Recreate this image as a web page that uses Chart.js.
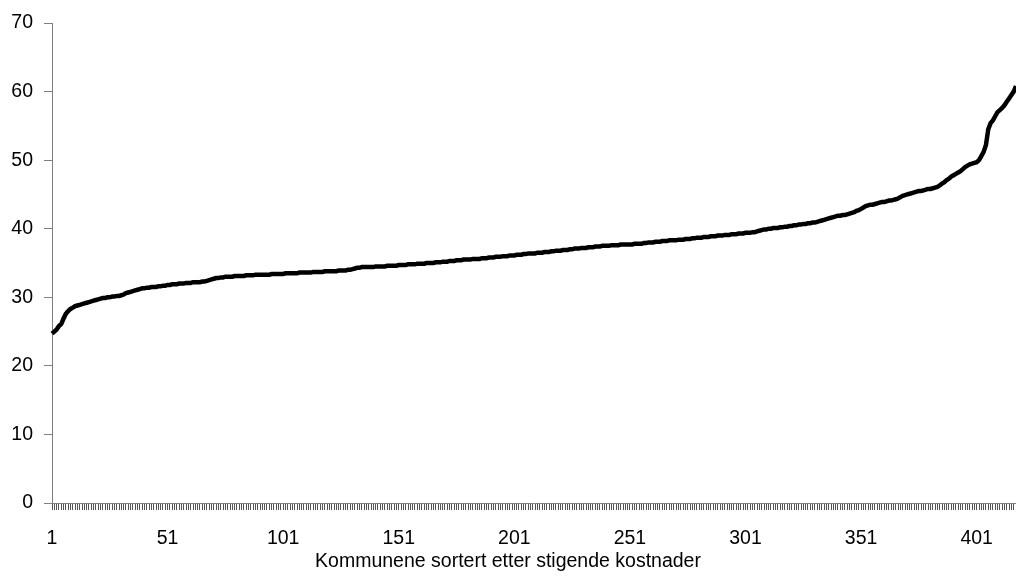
<!DOCTYPE html>
<html>
<head>
<meta charset="utf-8">
<script src="https://cdn.jsdelivr.net/npm/chart.js@4.4.1/dist/chart.umd.min.js"></script>
<style>
  html, body { margin: 0; padding: 0; background: #ffffff; }
  #wrap { width: 1016px; height: 583px; position: relative; }
</style>
</head>
<body>
<div id="wrap"><canvas id="c" width="1016" height="583"></canvas></div>
<script>
// Cost per municipality, sorted ascending
const costs = [
  24.7, 25.0, 25.3, 25.8, 26.1, 26.9, 27.6, 28.0, 28.3, 28.5,
  28.7, 28.8, 28.9, 29.0, 29.1, 29.2, 29.3, 29.4, 29.5, 29.6,
  29.7, 29.8, 29.9, 29.9, 30.0, 30.0, 30.1, 30.1, 30.2, 30.2,
  30.3, 30.4, 30.6, 30.7, 30.8, 30.9, 31.0, 31.1, 31.2, 31.3,
  31.3, 31.4, 31.4, 31.5, 31.5, 31.5, 31.6, 31.6, 31.7, 31.7,
  31.8, 31.8, 31.9, 31.9, 31.9, 32.0, 32.0, 32.0, 32.1, 32.1,
  32.1, 32.2, 32.2, 32.2, 32.2, 32.3, 32.3, 32.4, 32.5, 32.6,
  32.7, 32.8, 32.8, 32.9, 32.9, 33.0, 33.0, 33.0, 33.0, 33.1,
  33.1, 33.1, 33.1, 33.1, 33.2, 33.2, 33.2, 33.2, 33.3, 33.3,
  33.3, 33.3, 33.3, 33.3, 33.3, 33.4, 33.4, 33.4, 33.4, 33.4,
  33.4, 33.5, 33.5, 33.5, 33.5, 33.5, 33.5, 33.6, 33.6, 33.6,
  33.6, 33.6, 33.6, 33.7, 33.7, 33.7, 33.7, 33.7, 33.8, 33.8,
  33.8, 33.8, 33.8, 33.8, 33.9, 33.9, 33.9, 33.9, 34.0, 34.0,
  34.1, 34.2, 34.3, 34.3, 34.4, 34.4, 34.4, 34.4, 34.4, 34.4,
  34.5, 34.5, 34.5, 34.5, 34.5, 34.6, 34.6, 34.6, 34.6, 34.6,
  34.7, 34.7, 34.7, 34.7, 34.8, 34.8, 34.8, 34.8, 34.9, 34.9,
  34.9, 34.9, 35.0, 35.0, 35.0, 35.0, 35.1, 35.1, 35.1, 35.2,
  35.2, 35.2, 35.3, 35.3, 35.3, 35.4, 35.4, 35.4, 35.5, 35.5,
  35.5, 35.5, 35.6, 35.6, 35.6, 35.6, 35.7, 35.7, 35.7, 35.8,
  35.8, 35.8, 35.9, 35.9, 35.9, 36.0, 36.0, 36.0, 36.1, 36.1,
  36.1, 36.2, 36.2, 36.2, 36.3, 36.3, 36.4, 36.4, 36.4, 36.4,
  36.5, 36.5, 36.5, 36.6, 36.6, 36.6, 36.7, 36.7, 36.8, 36.8,
  36.8, 36.9, 36.9, 36.9, 37.0, 37.0, 37.1, 37.1, 37.1, 37.2,
  37.2, 37.2, 37.3, 37.3, 37.3, 37.4, 37.4, 37.4, 37.5, 37.5,
  37.5, 37.5, 37.6, 37.6, 37.6, 37.6, 37.7, 37.7, 37.7, 37.7,
  37.7, 37.7, 37.8, 37.8, 37.8, 37.8, 37.9, 37.9, 38.0, 38.0,
  38.0, 38.1, 38.1, 38.1, 38.2, 38.2, 38.2, 38.3, 38.3, 38.3,
  38.3, 38.4, 38.4, 38.4, 38.5, 38.5, 38.5, 38.6, 38.6, 38.7,
  38.7, 38.7, 38.8, 38.8, 38.8, 38.9, 38.9, 38.9, 39.0, 39.0,
  39.0, 39.1, 39.1, 39.1, 39.2, 39.2, 39.2, 39.3, 39.3, 39.3,
  39.4, 39.4, 39.4, 39.5, 39.5, 39.6, 39.7, 39.8, 39.9, 39.9,
  40.0, 40.0, 40.1, 40.1, 40.1, 40.2, 40.2, 40.3, 40.3, 40.4,
  40.4, 40.5, 40.5, 40.6, 40.6, 40.7, 40.7, 40.8, 40.8, 40.9,
  40.9, 41.0, 41.1, 41.2, 41.3, 41.4, 41.5, 41.6, 41.7, 41.8,
  41.9, 41.9, 42.0, 42.0, 42.1, 42.2, 42.3, 42.4, 42.6, 42.7,
  42.9, 43.1, 43.3, 43.4, 43.5, 43.5, 43.6, 43.7, 43.8, 43.9,
  43.9, 44.0, 44.1, 44.1, 44.2, 44.3, 44.4, 44.6, 44.8, 44.9,
  45.0, 45.1, 45.2, 45.3, 45.4, 45.5, 45.5, 45.6, 45.7, 45.8,
  45.8, 45.9, 46.0, 46.1, 46.3, 46.6, 46.8, 47.1, 47.3, 47.6,
  47.8, 48.0, 48.2, 48.4, 48.7, 49.0, 49.2, 49.4, 49.5, 49.6,
  49.7, 50.0, 50.6, 51.2, 52.2, 54.5, 55.4, 55.8, 56.4, 57.0,
  57.3, 57.6, 58.0, 58.5, 59.0, 59.5, 60.0, 60.8
];

// Municipality rank numbers (category axis)
const categories = Array.from({ length: costs.length }, (_, i) => String(i + 1));

// Labels shown on the x axis
const xTickLabels = ['1', '51', '101', '151', '201', '251', '301', '351', '401'];

// Y axis ticks
const yTicks = [0, 10, 20, 30, 40, 50, 60, 70];

const axisTitle = 'Kommunene sortert etter stigende kostnader';

const FONT = 'Arial, "Liberation Sans", sans-serif';

new Chart(document.getElementById('c'), {
  type: 'line',
  data: {
    labels: categories,
    datasets: [{
      data: costs,
      borderColor: '#000000',
      borderWidth: 4.5,
      pointRadius: 0,
      tension: 0,
      fill: false
    }]
  },
  options: {
    responsive: false,
    animation: false,
    devicePixelRatio: 1,
    layout: { padding: { top: 23, right: 0, left: 0, bottom: 0 } },
    plugins: {
      legend: { display: false },
      tooltip: { enabled: false },
      title: {
        display: true,
        position: 'bottom',
        text: axisTitle,
        color: '#000000',
        font: { family: FONT, size: 19.5, weight: 'normal' },
        padding: { top: 0, bottom: 10 }
      }
    },
    scales: {
      x: {
        type: 'category',
        offset: false,
        border: { display: true, color: '#808080', width: 1 },
        grid: {
          display: true,
          drawOnChartArea: false,
          drawTicks: true,
          tickLength: 7,
          color: '#555555',
          lineWidth: 1
        },
        ticks: {
          autoSkip: false,
          maxRotation: 0,
          minRotation: 0,
          padding: 17,
          color: '#000000',
          font: { family: FONT, size: 19.5 },
          callback: function (value, index) {
            const lab = categories[index];
            return xTickLabels.includes(lab) ? lab : '';
          }
        },
        afterFit: function (scale) {
          scale.height = 80 - (19.5 * 1.2 + 10);
          scale.paddingLeft = 0;
          scale.paddingRight = 0;
        }
      },
      y: {
        min: 0,
        max: 70,
        border: { display: true, color: '#808080', width: 1 },
        grid: {
          display: true,
          drawOnChartArea: false,
          drawTicks: true,
          tickLength: 8,
          color: '#808080'
        },
        afterBuildTicks: function (scale) {
          scale.ticks = yTicks.map(v => ({ value: v }));
        },
        ticks: {
          padding: 11,
          color: '#000000',
          font: { family: FONT, size: 19.5 }
        },
        afterFit: function (scale) { scale.width = 52; }
      }
    }
  }
});
</script>
</body>
</html>
